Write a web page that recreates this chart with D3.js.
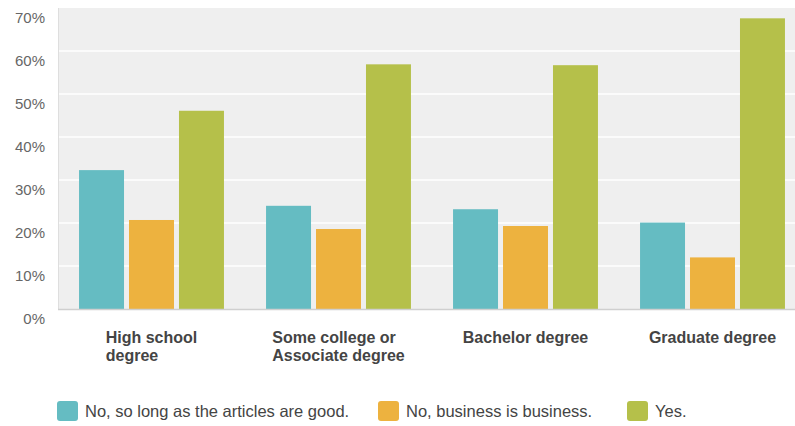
<!DOCTYPE html>
<html><head><meta charset="utf-8">
<script src="https://cdn.jsdelivr.net/npm/d3@7"></script>
<style>
html,body{margin:0;padding:0;background:#fff;}
svg{display:block;font-family:"Liberation Sans",Arial,sans-serif;}
</style></head>
<body><svg id="c" width="795" height="426"></svg>
<script>
const categories = ["High school degree", "Some college or Associate degree", "Bachelor degree", "Graduate degree"];
const categoryLines = [["High school", "degree"], ["Some college or", "Associate degree"], ["Bachelor degree"], ["Graduate degree"]];
const seriesNames = ["No, so long as the articles are good.", "No, business is business.", "Yes."];
const seriesColors = ["#65bcc2", "#edb23f", "#b5c04a"];
const noSoLong = [32.3, 24.0, 23.2, 20.1];
const noBusiness = [20.7, 18.6, 19.3, 12.0];
const yes = [46.1, 56.9, 56.7, 67.6];
const yTicks = [0, 10, 20, 30, 40, 50, 60, 70];

(function(){
const series = [noSoLong, noBusiness, yes];
const svg = d3.select("#c");
const pLeft = 58, pTop = 8, pBottom = 309, pRight = 806;

const x0 = d3.scaleBand().domain(categories).range([pLeft, pRight]).paddingInner(0.225).paddingOuter(0.1125);
const x1 = d3.scaleBand().domain(d3.range(3)).range([0, x0.bandwidth()]).paddingInner(0.1).paddingOuter(0);
const y = d3.scaleLinear().domain([0, 70]).range([pBottom, pTop]);

svg.append("rect").attr("x", pLeft).attr("y", pTop).attr("width", pRight - pLeft).attr("height", pBottom - pTop).attr("fill", "#efefef");
svg.append("line").attr("x1", pLeft + 0.5).attr("x2", pLeft + 0.5).attr("y1", pTop).attr("y2", pBottom).attr("stroke", "#dedede");

svg.append("g").selectAll("line").data(yTicks.filter(t => t > 0 && t < 70)).join("line")
  .attr("x1", pLeft + 1).attr("x2", pRight).attr("y1", d => y(d)).attr("y2", d => y(d))
  .attr("stroke", "#ffffff").attr("stroke-width", 1.5);

svg.append("g").selectAll("text").data(yTicks).join("text")
  .attr("x", 45).attr("y", d => y(d) + 14.5).attr("text-anchor", "end")
  .attr("font-size", 15).attr("fill", "#666").text(d => d + "%");

const g = svg.append("g").selectAll("g").data(categories).join("g")
  .attr("transform", d => `translate(${x0(d)},0)`);
g.selectAll("rect").data((d, i) => series.map((s, k) => ({k, v: s[i]}))).join("rect")
  .attr("x", d => x1(d.k)).attr("width", x1.bandwidth())
  .attr("y", d => y(d.v)).attr("height", d => pBottom - y(d.v))
  .attr("fill", d => seriesColors[d.k]);

svg.append("line").attr("x1", pLeft).attr("x2", pRight).attr("y1", pBottom + 0.5).attr("y2", pBottom + 0.5).attr("stroke", "#cfcfcf").attr("stroke-width", 1.5);

categories.forEach((c, i) => {
  const t = svg.append("text").attr("font-size", 16).attr("font-weight", "bold").attr("fill", "#444");
  const lines = categoryLines[i];
  lines.forEach((l, j) => t.append("tspan").attr("y", 343 + j * 18).text(l));
  let w = 0;
  t.selectAll("tspan").each(function(){ w = Math.max(w, this.getComputedTextLength()); });
  const cx = x0(c) + x0.bandwidth() / 2;
  t.selectAll("tspan").attr("x", cx - w / 2);
});

const legendX = [57, 378, 627];
const lg = svg.append("g").selectAll("g").data(seriesNames).join("g")
  .attr("transform", (d, i) => `translate(${legendX[i]},401)`);
lg.append("rect").attr("width", 21).attr("height", 20).attr("rx", 3).attr("fill", (d, i) => seriesColors[i]);
lg.append("text").attr("x", 28).attr("y", 16).attr("font-size", 16.5).attr("fill", "#444").text(d => d);
})();
</script></body></html>
